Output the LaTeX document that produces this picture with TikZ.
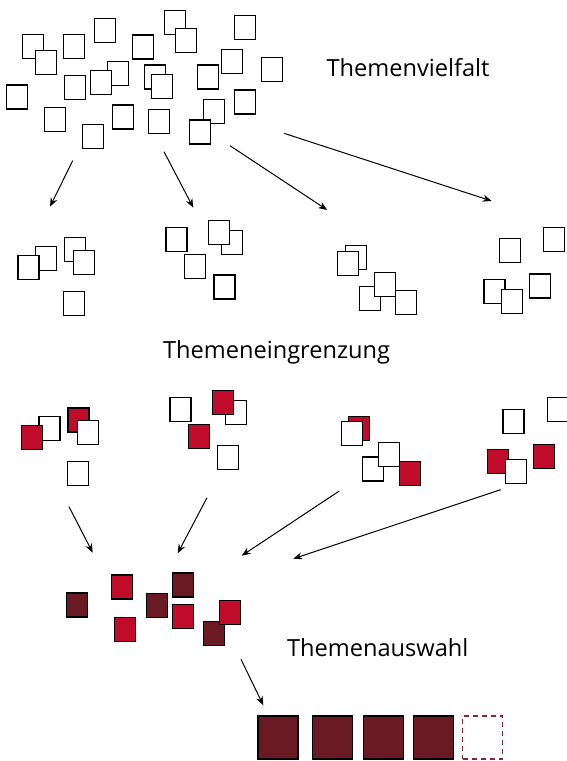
\documentclass[tikz,border=0pt]{standalone}
\usepackage{fontspec}
\newfontfamily\labelfont{Open Sans}
\usetikzlibrary{arrows.meta}
\definecolor{themered}{RGB}{192,12,42}
\definecolor{themedark}{RGB}{106,26,34}
\definecolor{themedash}{RGB}{128,40,58}

\begin{document}
\begin{tikzpicture}[x=1pt, y=-1pt,
  every node/.style={draw, rectangle, fill=white, line width=1.2pt, minimum width=21pt, minimum height=24pt, inner sep=0pt},
  red/.style={fill=themered},
  dark/.style={fill=themedark},
  big/.style={fill=themedark, minimum width=40pt, minimum height=43pt},
  open/.style={fill=none, draw=themedash, dashed, dash pattern=on 5pt off 4pt, minimum width=40pt, minimum height=43pt},
  caption/.style={draw=none, fill=none, anchor=base west, inner sep=0pt, font=\labelfont\fontsize{23.6}{28}\selectfont},
  flow/.style={-{Stealth[length=9pt, width=7pt]}, line width=1pt}]
\clip (0,0) rectangle (567,761);
% Themenvielfalt
\node (G0N1) at (32.7,46.8) {};
\node (G0N2) at (45.7,62.3) {};
\node (G0N3) at (73.7,46.8) {};
\node (G0N4) at (104.7,30.7) {};
\node (G0N5) at (143,47) {};
\node (G0N6) at (175,22.8) {};
\node (G0N7) at (186,40.8) {};
\node (G0N8) at (245,27.8) {};
\node (G0N9) at (232,61.2) {};
\node (G0N10) at (272.3,69.2) {};
\node (G0N11) at (207.7,77) {};
\node (G0N12) at (117.8,73.3) {};
\node (G0N13) at (100.7,82.2) {};
\node (G0N14) at (75.3,87.8) {};
\node (G0N15) at (155.3,77) {};
\node (G0N16) at (162,86.7) {};
\node (G0N17) at (16.7,97) {};
\node (G0N18) at (54.7,119.7) {};
\node (G0N19) at (92.7,136.3) {};
\node (G0N20) at (123,117) {};
\node (G0N21) at (159,121.3) {};
\node (G0N22) at (213.7,111.7) {};
\node (G0N23) at (200.3,132) {};
\node (G0N24) at (245.3,102) {};
\node[caption] (L1) at (326,76) {Themenvielfalt};
% Themeneingrenzung
\node (G1N1) at (45.6,258.3) {};
\node (G1N2) at (28.4,267.2) {};
\node (G1N3) at (74.7,249.7) {};
\node (G1N4) at (84.3,262.2) {};
\node (G1N5) at (73.6,303.3) {};
\node (G2N1) at (176.5,239.3) {};
\node (G2N2) at (231.8,242.3) {};
\node (G2N3) at (219,232.3) {};
\node (G2N4) at (195.3,266.2) {};
\node (G2N5) at (224.4,287) {};
\node (G3N1) at (355.7,257.7) {};
\node (G3N2) at (348,263.2) {};
\node (G3N3) at (369.6,298.7) {};
\node (G3N4) at (385.3,284.2) {};
\node (G3N5) at (406.3,302.7) {};
\node (G4N1) at (510,250.8) {};
\node (G4N2) at (553.7,239.3) {};
\node (G4N3) at (540,286) {};
\node (G4N4) at (494.4,291.3) {};
\node (G4N5) at (512,301.5) {};
\node[caption] (L2) at (162.5,358.3) {Themeneingrenzung};
% markierte Themen
\node (R1N1) at (49.4,428.7) {};
\node[red] (R1N2) at (32,437.5) {};
\node[red] (R1N3) at (78.5,420) {};
\node (R1N4) at (88.2,432.5) {};
\node (R1N5) at (77.6,473.7) {};
\node (R2N1) at (180.5,409.7) {};
\node (R2N2) at (235.6,412.3) {};
\node[red] (R2N3) at (222.6,402.7) {};
\node[red] (R2N4) at (199.1,436.7) {};
\node (R2N5) at (228.2,457.3) {};
\node[red] (R3N1) at (359.3,428.2) {};
\node (R3N2) at (352.3,433.2) {};
\node (R3N3) at (373.2,469) {};
\node (R3N4) at (389.2,454.5) {};
\node[red] (R3N5) at (410.1,473.2) {};
\node (R4N1) at (513.5,421.2) {};
\node (R4N2) at (557.7,409.7) {};
\node[red] (R4N3) at (543.8,456.2) {};
\node[red] (R4N4) at (498.2,461.5) {};
\node (R4N5) at (515.8,471.8) {};
% Themenauswahl
\node[dark] (S1) at (77.2,605) {};
\node[red] (S2) at (122,587) {};
\node[red] (S3) at (125.2,629.5) {};
\node[dark] (S4) at (157.2,605.5) {};
\node[dark] (S5) at (182.7,585) {};
\node[red] (S6) at (183,616.2) {};
\node[dark] (S7) at (214.3,633.3) {};
\node[red] (S8) at (230.3,612.7) {};
\node[caption] (L3) at (286.5,656) {Themenauswahl};
\node[big] (F1) at (278,737.5) {};
\node[big] (F2) at (332.2,737.5) {};
\node[big] (F3) at (383.8,737.5) {};
\node[big] (F4) at (433.2,737.5) {};
\node[open] (F5) at (482.8,737.5) {};
% Pfeile
\coordinate (A1s) at (72.7,160.7);
\coordinate (A1e) at (50,206.7);
\coordinate (A2s) at (164,151.7);
\coordinate (A2e) at (193.3,207.7);
\coordinate (A3s) at (230,145.7);
\coordinate (A3e) at (327.3,210);
\coordinate (A4s) at (284,133.3);
\coordinate (A4e) at (491.7,201);
\coordinate (A5s) at (69,506.7);
\coordinate (A5e) at (92.7,552.7);
\coordinate (A6s) at (207,497.7);
\coordinate (A6e) at (177.7,553.3);
\coordinate (A7s) at (339.3,491);
\coordinate (A7e) at (241.7,555.7);
\coordinate (A8s) at (500.7,489.7);
\coordinate (A8e) at (293.3,558.7);
\coordinate (A9s) at (241,659.3);
\coordinate (A9e) at (263.3,705.3);
\draw[flow] (A1s) -- (A1e);
\draw[flow] (A2s) -- (A2e);
\draw[flow] (A3s) -- (A3e);
\draw[flow] (A4s) -- (A4e);
\draw[flow] (A5s) -- (A5e);
\draw[flow] (A6s) -- (A6e);
\draw[flow] (A7s) -- (A7e);
\draw[flow] (A8s) -- (A8e);
\draw[flow] (A9s) -- (A9e);
\end{tikzpicture}
\end{document}
